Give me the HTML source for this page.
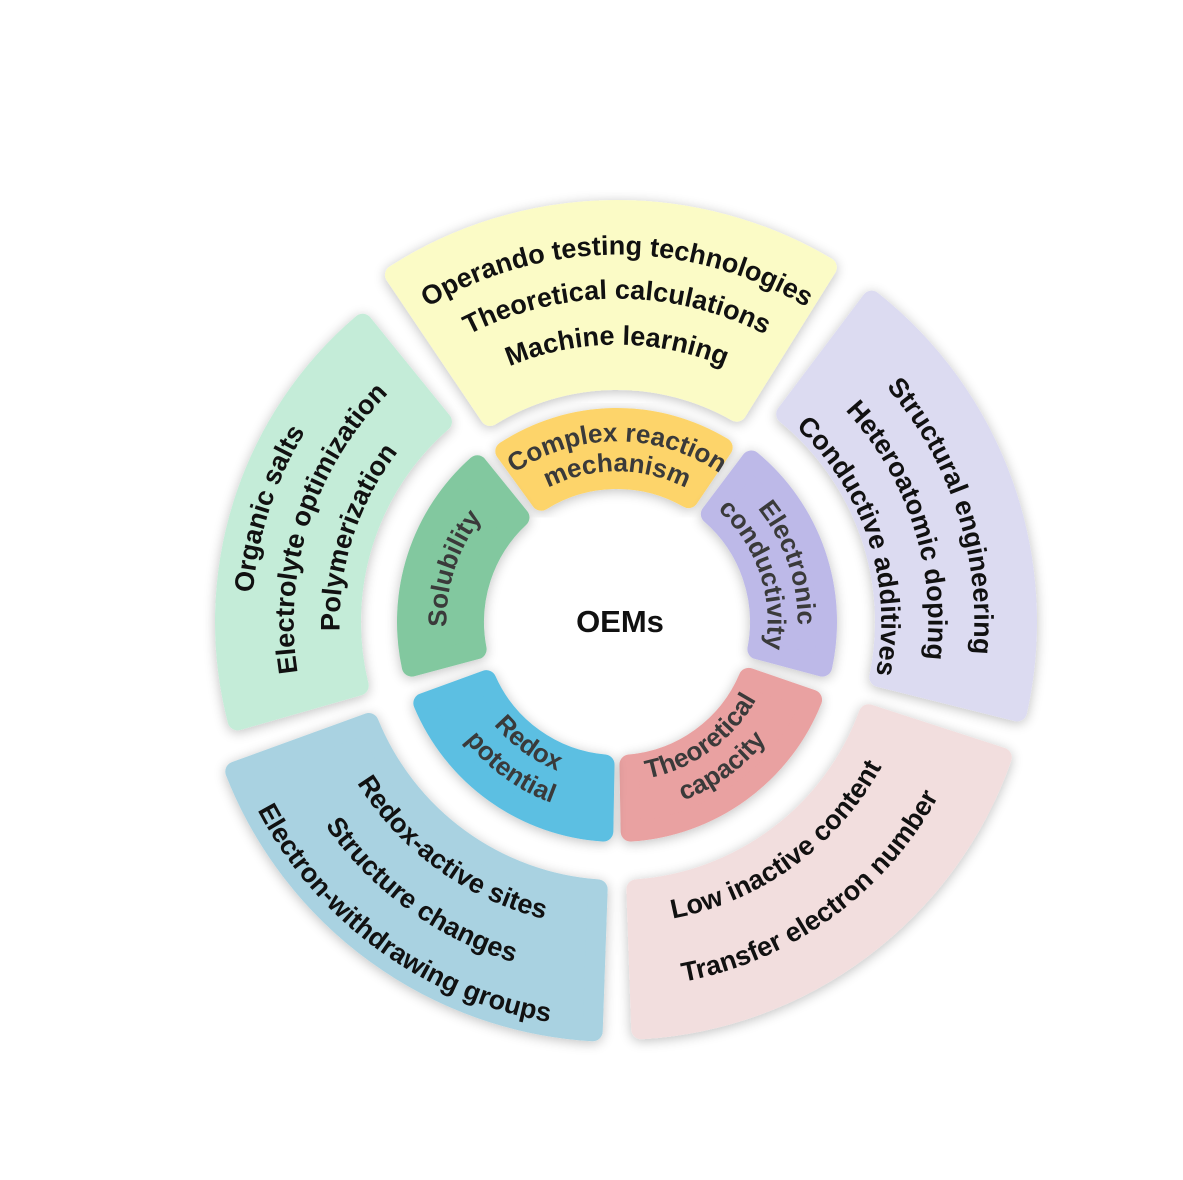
<!DOCTYPE html>
<html><head><meta charset="utf-8"><style>
html,body{margin:0;padding:0;background:#fff;}
svg{display:block;}
text{font-family:"Liberation Sans",Arial,sans-serif;font-weight:bold;}
</style></head><body>
<svg id="s" width="1183" height="1180" viewBox="0 0 1183 1180" xmlns="http://www.w3.org/2000/svg">
<defs>
<filter id="sh" x="-20%" y="-20%" width="140%" height="140%"><feGaussianBlur in="SourceAlpha" stdDeviation="6"/><feOffset dx="0" dy="2"/><feComponentTransfer><feFuncA type="linear" slope="0.25"/></feComponentTransfer><feMerge><feMergeNode/><feMergeNode in="SourceGraphic"/></feMerge></filter>
</defs>
<g id="segs"></g>
<g id="txt"></g>
<text x="620" y="632" font-size="31" text-anchor="middle" fill="#111">OEMs</text>
</svg>
<script>
var cx=617,cy=622,NS="http://www.w3.org/2000/svg";
function P(r,a){a=a*Math.PI/180;return [cx+r*Math.sin(a),cy-r*Math.cos(a)];}
function seg(r1,r2,a1,a2,fill){
 var k=10;r1+=k;r2-=k;
 var b1=a1+k/r2*57.3,b2=a2-k/r2*57.3,c1=a1+k/r1*57.3,c2=a2-k/r1*57.3;
 var p1=P(r2,b1),p2=P(r2,b2),p3=P(r1,c2),p4=P(r1,c1);
 var d="M"+p1+" A"+r2+" "+r2+" 0 0 1 "+p2+" L"+p3+" A"+r1+" "+r1+" 0 0 0 "+p4+"Z";
 var e=document.createElementNS(NS,"path");
 e.setAttribute("d",d);e.setAttribute("fill",fill);e.setAttribute("stroke",fill);
 e.setAttribute("stroke-width",2*k);e.setAttribute("stroke-linejoin","round");
 e.setAttribute("filter","url(#sh)");
 document.getElementById("segs").appendChild(e);
}
var id=0;
function arcText(r,a,span,cw,txt,size,col){
 var off=size*0.36;
 var rr=cw? r-off : r+off;
 var a1=a-span,a2=a+span,d;
 if(cw){d="M"+P(rr,a1)+" A"+rr+" "+rr+" 0 0 1 "+P(rr,a2);}
 else{d="M"+P(rr,a2)+" A"+rr+" "+rr+" 0 0 0 "+P(rr,a1);}
 var p=document.createElementNS(NS,"path");id++;
 p.setAttribute("id","p"+id);p.setAttribute("d",d);p.setAttribute("fill","none");
 document.querySelector("defs").appendChild(p);
 var t=document.createElementNS(NS,"text");
 t.setAttribute("font-size",size);t.setAttribute("fill",col);t.setAttribute("text-anchor","middle");
 var tp=document.createElementNS(NS,"textPath");
 tp.setAttribute("href","#p"+id);tp.setAttribute("startOffset","50%");tp.textContent=txt;
 t.appendChild(tp);document.getElementById("txt").appendChild(t);
}
seg(232,422,-34,32,"#fbfbc6");
seg(258,420,37,104,"#dcdbf1");
seg(258,418,108,178,"#f2dede");
seg(258,420,182,250,"#a9d2e1");
seg(256,402,254,321,"#c4ecd8");
seg(133,214,-36,34,"#fdd46a");
seg(133,220,37,105,"#bdb9e8");
seg(133,220,109,179,"#e9a1a1");
seg(133,220,181,250,"#5cbfe2");
seg(133,220,255,321,"#82c89f");
var C="#111",C2="#3a3a3a",F=27,G=26;
arcText(377,0,60,true,"Operando testing technologies",F,C);
arcText(333,0,60,true,"Theoretical calculations",F,C);
arcText(287,0,60,true,"Machine learning",F,C);
arcText(367,72,60,true,"Structural engineering",F,C);
arcText(321,72,60,true,"Heteroatomic doping",F,C);
arcText(274,72,60,true,"Conductive additives",F,C);
arcText(292,144,60,false,"Low inactive content",F,C);
arcText(356,144,60,false,"Transfer electron number",F,C);
arcText(296,216,60,false,"Redox-active sites",F,C);
arcText(346,216,60,false,"Structure changes",F,C);
arcText(396,216,60,false,"Electron-withdrawing groups",F,C);
arcText(375,288,60,true,"Organic salts",F,C);
arcText(333,288,60,true,"Electrolyte optimization",F,C);
arcText(287,288,60,true,"Polymerization",F,C);
arcText(190,0,60,true,"Complex reaction",G,C2);
arcText(160,0,60,true,"mechanism",G,C2);
arcText(190,71,60,true,"Electronic",G,C2);
arcText(160,71,60,true,"conductivity",G,C2);
arcText(150,144,60,false,"Theoretical",G,C2);
arcText(181,144,60,false,"capacity",G,C2);
arcText(151,216,60,false,"Redox",G,C2);
arcText(183,216,60,false,"potential",G,C2);
arcText(180,288,60,true,"Solubility",G,C2);
</script>
</body></html>
